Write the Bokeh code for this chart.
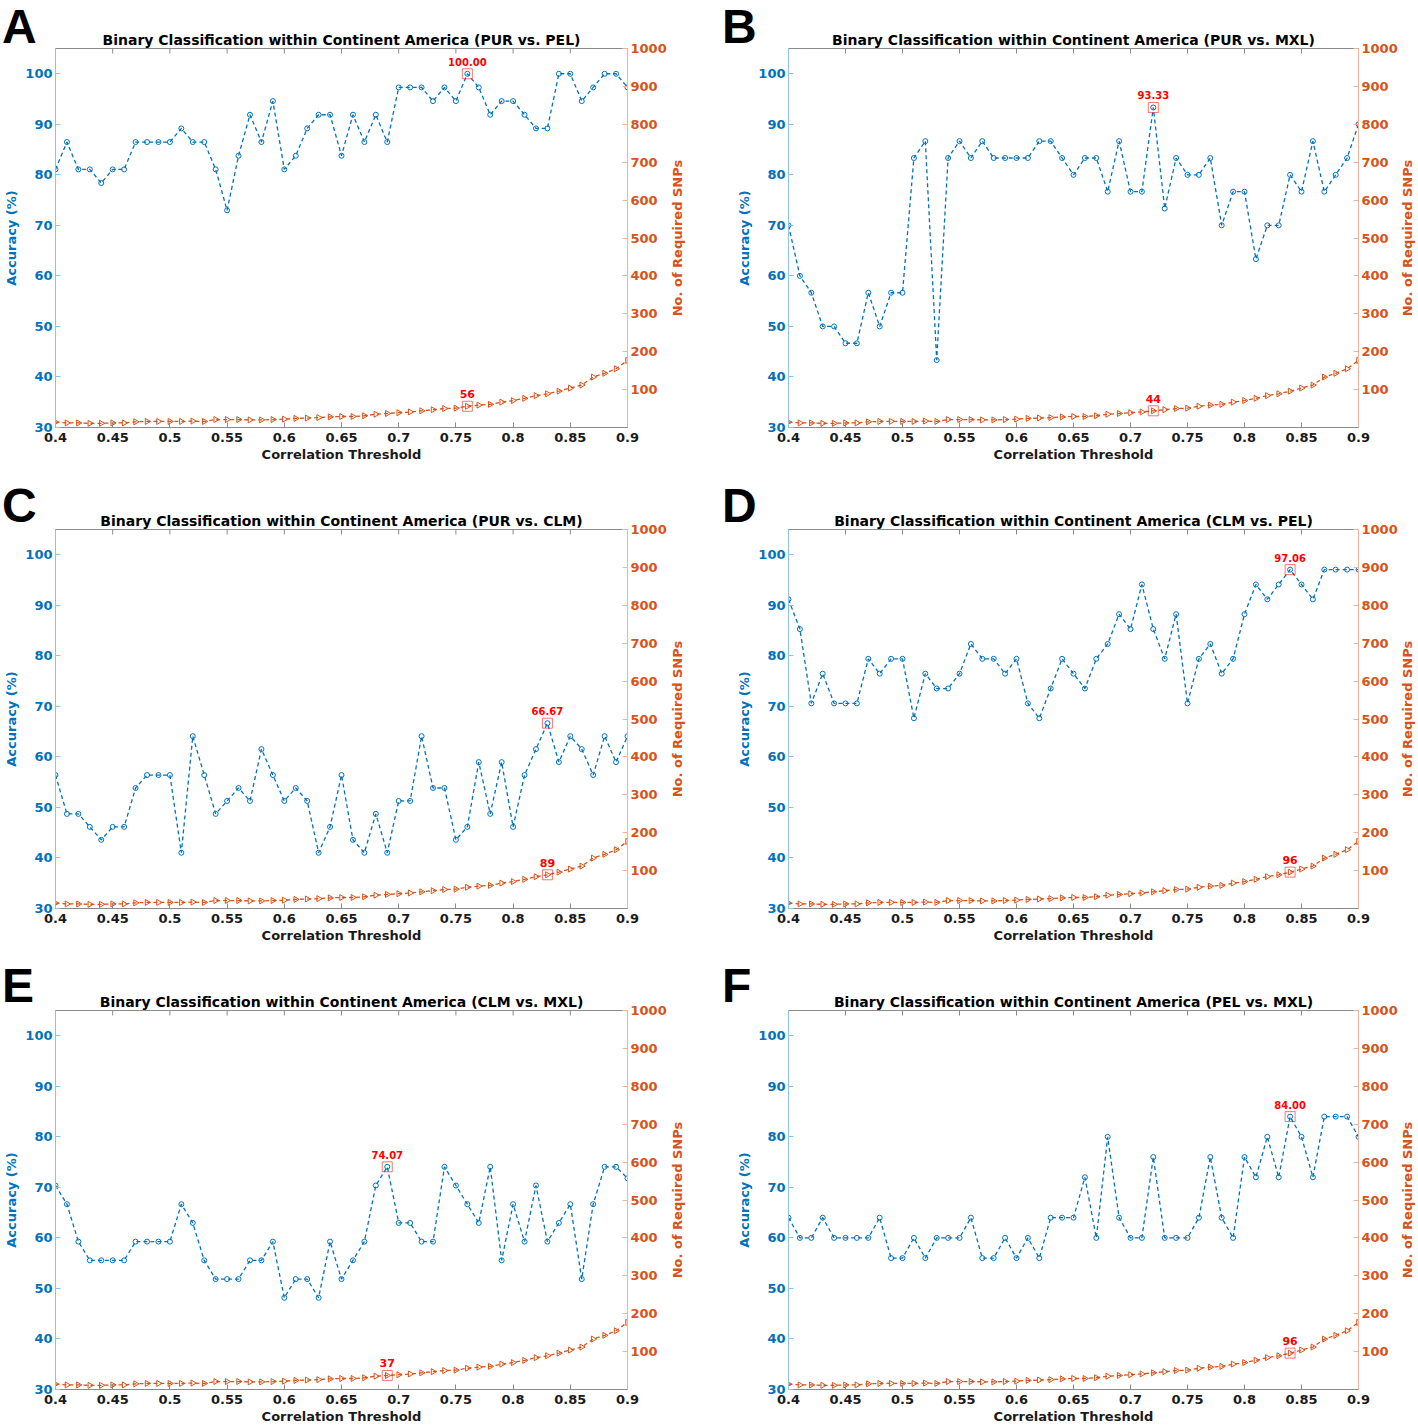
import numpy as np
from bokeh.plotting import figure
from bokeh.layouts import column, row
from bokeh.models import Range1d, LinearAxis, FixedTicker, ColumnDataSource, Div
from bokeh.core.properties import value
from bokeh.embed import file_html
from bokeh.resources import INLINE

thresholds = [0.40, 0.41, 0.42, 0.43, 0.44, 0.45, 0.46, 0.47, 0.48, 0.49,
              0.50, 0.51, 0.52, 0.53, 0.54, 0.55, 0.56, 0.57, 0.58, 0.59,
              0.60, 0.61, 0.62, 0.63, 0.64, 0.65, 0.66, 0.67, 0.68, 0.69,
              0.70, 0.71, 0.72, 0.73, 0.74, 0.75, 0.76, 0.77, 0.78, 0.79,
              0.80, 0.81, 0.82, 0.83, 0.84, 0.85, 0.86, 0.87, 0.88, 0.89,
              0.90]

snps = [14, 12, 12, 11, 11, 12, 12, 15, 16, 16,
        16, 16, 17, 16, 21, 21, 21, 20, 20, 21,
        22, 24, 25, 26, 28, 29, 29, 31, 35, 37,
        39, 41, 44, 47, 50, 51, 56, 59, 61, 67,
        71, 77, 84, 89, 96, 104, 112, 133, 143, 155,
        177]

acc_a = [81.08, 86.49, 81.08, 81.08, 78.38, 81.08, 81.08, 86.49, 86.49, 86.49,
         86.49, 89.19, 86.49, 86.49, 81.08, 72.97, 83.78, 91.89, 86.49, 94.59,
         81.08, 83.78, 89.19, 91.89, 91.89, 83.78, 91.89, 86.49, 91.89, 86.49,
         97.30, 97.30, 97.30, 94.59, 97.30, 94.59, 100.00, 97.30, 91.89, 94.59,
         94.59, 91.89, 89.19, 89.19, 100.00, 100.00, 94.59, 97.30, 100.00, 100.00,
         97.30]

acc_b = [70.00, 60.00, 56.67, 50.00, 50.00, 46.67, 46.67, 56.67, 50.00, 56.67,
         56.67, 83.33, 86.67, 43.33, 83.33, 86.67, 83.33, 86.67, 83.33, 83.33,
         83.33, 83.33, 86.67, 86.67, 83.33, 80.00, 83.33, 83.33, 76.67, 86.67,
         76.67, 76.67, 93.33, 73.33, 83.33, 80.00, 80.00, 83.33, 70.00, 76.67,
         76.67, 63.33, 70.00, 70.00, 80.00, 76.67, 86.67, 76.67, 80.00, 83.33,
         90.00]

acc_c = [56.41, 48.72, 48.72, 46.15, 43.59, 46.15, 46.15, 53.85, 56.41, 56.41,
         56.41, 41.03, 64.10, 56.41, 48.72, 51.28, 53.85, 51.28, 61.54, 56.41,
         51.28, 53.85, 51.28, 41.03, 46.15, 56.41, 43.59, 41.03, 48.72, 41.03,
         51.28, 51.28, 64.10, 53.85, 53.85, 43.59, 46.15, 58.97, 48.72, 58.97,
         46.15, 56.41, 61.54, 66.67, 58.97, 64.10, 61.54, 56.41, 64.10, 58.97,
         64.10]

acc_d = [91.18, 85.29, 70.59, 76.47, 70.59, 70.59, 70.59, 79.41, 76.47, 79.41,
         79.41, 67.65, 76.47, 73.53, 73.53, 76.47, 82.35, 79.41, 79.41, 76.47,
         79.41, 70.59, 67.65, 73.53, 79.41, 76.47, 73.53, 79.41, 82.35, 88.24,
         85.29, 94.12, 85.29, 79.41, 88.24, 70.59, 79.41, 82.35, 76.47, 79.41,
         88.24, 94.12, 91.18, 94.12, 97.06, 94.12, 91.18, 97.06, 97.06, 97.06,
         97.06]

acc_e = [70.37, 66.67, 59.26, 55.56, 55.56, 55.56, 55.56, 59.26, 59.26, 59.26,
         59.26, 66.67, 62.96, 55.56, 51.85, 51.85, 51.85, 55.56, 55.56, 59.26,
         48.15, 51.85, 51.85, 48.15, 59.26, 51.85, 55.56, 59.26, 70.37, 74.07,
         62.96, 62.96, 59.26, 59.26, 74.07, 70.37, 66.67, 62.96, 74.07, 55.56,
         66.67, 59.26, 70.37, 59.26, 62.96, 66.67, 51.85, 66.67, 74.07, 74.07,
         71.79]

acc_f = [64, 60, 60, 64, 60, 60, 60, 60, 64, 56,
         56, 60, 56, 60, 60, 60, 64, 56, 56, 60,
         56, 60, 56, 64, 64, 64, 72, 60, 80, 64,
         60, 60, 76, 60, 60, 60, 64, 76, 64, 60,
         76, 72, 80, 72, 84, 80, 72, 84, 84, 84,
         80]

panel_letters = ["A", "B", "C", "D", "E", "F"]
panel_pairs = ["PUR vs. PEL", "PUR vs. MXL", "PUR vs. CLM",
               "CLM vs. PEL", "CLM vs. MXL", "PEL vs. MXL"]
panel_acc = [acc_a, acc_b, acc_c, acc_d, acc_e, acc_f]

x_ticks = [0.4, 0.45, 0.5, 0.55, 0.6, 0.65, 0.7, 0.75, 0.8, 0.85, 0.9]
x_tick_labels = ["0.4", "0.45", "0.5", "0.55", "0.6", "0.65", "0.7", "0.75", "0.8", "0.85", "0.9"]
acc_ticks = [30, 40, 50, 60, 70, 80, 90, 100]
snp_ticks = [100, 200, 300, 400, 500, 600, 700, 800, 900, 1000]
acc_top = 105
snp_label = "No. of Required SNPs"

BLUE = "#0072BD"
BLUE_L = "#8EC1E6"
ORANGE = "#D95319"
ORANGE_L = "#F2B39A"
RED = "#FF0000"
GRAY = "#8A8A8A"
FONT = "DejaVu Sans"


def style_axis(ax, color, line_color, size="13px"):
    ax.axis_line_color = line_color
    ax.major_tick_line_color = line_color
    ax.minor_tick_line_color = None
    ax.major_tick_in = 5
    ax.major_tick_out = 0
    ax.major_label_text_color = color
    ax.major_label_text_font = FONT
    ax.major_label_text_font_style = "bold"
    ax.major_label_text_font_size = size
    ax.axis_label_text_color = color
    ax.axis_label_text_font = FONT
    ax.axis_label_text_font_style = "bold"
    ax.axis_label_text_font_size = "13px"
    ax.major_label_standoff = 3
    ax.axis_label_standoff = 3


def make_panel(k, right_col, H, bottom):
    acc = panel_acc[k]
    W = 710 if right_col else 708
    bl = 80 if right_col else 55
    br = 60 if right_col else 81
    top = 48
    p = figure(width=W, height=H, x_range=Range1d(0.4, 0.9), y_range=Range1d(30, acc_top),
               output_backend="svg", toolbar_location=None,
               min_border_left=bl, min_border_right=br,
               min_border_top=top, min_border_bottom=bottom,
               title="Binary Classification within Continent America (" + panel_pairs[k] + ")",
               x_axis_label="Correlation Threshold", y_axis_label="Accuracy (%)")
    p.extra_y_ranges = {"snp": Range1d(0, 1000)}
    p.grid.visible = False
    p.outline_line_color = GRAY
    p.outline_line_width = 1
    p.background_fill_color = "white"
    p.border_fill_color = "white"

    p.title.align = "center"
    p.title.text_font = FONT
    p.title.text_font_style = "bold"
    p.title.text_font_size = "14px"
    p.title.text_color = "black"
    p.title.standoff = 1

    xa = p.xaxis[0]
    xa.ticker = FixedTicker(ticks=x_ticks)
    xa.major_label_overrides = dict(zip(x_ticks, x_tick_labels))
    style_axis(xa, "#1a1a1a", GRAY)
    xa.major_label_standoff = 5
    xa.axis_label_standoff = 2

    ya = p.yaxis[0]
    ya.ticker = FixedTicker(ticks=acc_ticks)
    style_axis(ya, BLUE, BLUE_L)

    # right axis; its title is drawn as a rotated text block (reads bottom-to-top)
    ra = LinearAxis(y_range_name="snp", ticker=FixedTicker(ticks=snp_ticks))
    style_axis(ra, ORANGE, ORANGE_L)
    p.add_layout(ra, "right")

    # inward tick marks along the top box edge
    p.scatter(x=x_ticks, y=[acc_top] * len(x_ticks), marker="dash", angle=np.pi / 2,
              size=10, line_color=GRAY, line_width=1)

    src = ColumnDataSource(dict(x=thresholds, acc=acc, snp=snps))
    p.line("x", "snp", source=src, y_range_name="snp", line_color=ORANGE,
           line_dash="4 3", line_width=1.3)
    p.scatter("x", "snp", source=src, y_range_name="snp", marker="triangle",
              angle=-np.pi / 2, size=6, fill_color=None, line_color=ORANGE, line_width=1)
    p.line("x", "acc", source=src, line_color=BLUE, line_dash="4 3", line_width=1.3)
    p.scatter("x", "acc", source=src, marker="circle", size=5, fill_color=None,
              line_color=BLUE, line_width=1)

    i = acc.index(max(acc))
    hs = ColumnDataSource(dict(x=[thresholds[i]], acc=[acc[i]], snp=[snps[i]],
                               acc_txt=["%.2f" % acc[i]], snp_txt=[str(snps[i])]))
    p.scatter("x", "acc", source=hs, marker="square", size=10, fill_color=None,
              line_color=RED, line_alpha=0.55, line_width=1)
    p.scatter("x", "snp", source=hs, y_range_name="snp", marker="square", size=10,
              fill_color=None, line_color=RED, line_alpha=0.55, line_width=1)
    p.text("x", "acc", text="acc_txt", source=hs, y_offset=-8, text_align="center",
           text_baseline="bottom", text_color=RED, text_font=value(FONT),
           text_font_style="bold", text_font_size="10px")
    p.text("x", "snp", text="snp_txt", source=hs, y_range_name="snp", y_offset=-8,
           text_align="center", text_baseline="bottom", text_color=RED,
           text_font=value(FONT), text_font_style="bold", text_font_size="11px")
    return p


heights = [481, 481, 464]
bottoms = [54, 54, 37]

# page positions for panel letters and rotated right-axis titles
letter_left = [2, 722]
letter_top = [0, 479, 959]
rlabel_cx = [678, 1408]
rlabel_cy = [238, 719, 1200]

overlay = []
for k, letter in enumerate(panel_letters):
    overlay.append(Div(
        text=letter, width=45, height=54,
        styles={"position": "absolute", "left": "%dpx" % letter_left[k % 2],
                "top": "%dpx" % letter_top[k // 2], "z-index": "10",
                "font-family": "'Liberation Sans', Arial, sans-serif",
                "font-weight": "bold", "font-size": "48px", "line-height": "54px",
                "color": "black", "margin": "0", "padding": "0"}))
    cx = rlabel_cx[k % 2]
    cy = rlabel_cy[k // 2]
    overlay.append(Div(
        text=snp_label, width=200, height=16,
        styles={"position": "absolute", "left": "%dpx" % (cx - 100),
                "top": "%dpx" % (cy - 8), "z-index": "10",
                "transform": "rotate(-90deg)", "transform-origin": "50% 50%",
                "text-align": "center", "white-space": "nowrap",
                "font-family": "'DejaVu Sans', sans-serif", "font-weight": "bold",
                "font-size": "13px", "line-height": "16px", "color": ORANGE,
                "margin": "0", "padding": "0"}))

rows = []
for r in range(3):
    pl = make_panel(2 * r, False, heights[r], bottoms[r])
    pr = make_panel(2 * r + 1, True, heights[r], bottoms[r])
    rows.append(row(pl, pr, spacing=0))
layout = column(*overlay, *rows, spacing=0)

open("out.html", "w").write(file_html(layout, INLINE))
